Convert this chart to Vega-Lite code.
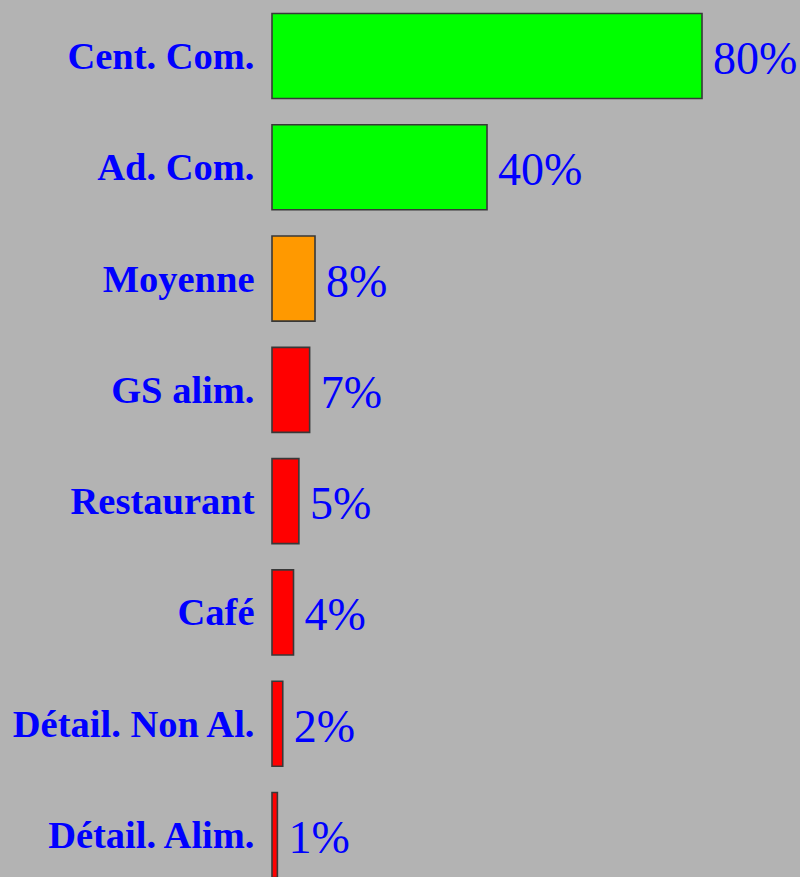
{
  "$schema": "https://vega.github.io/schema/vega-lite/v6.json",
  "autosize": {"type": "none"},
  "padding": {"left": 272, "top": 0, "right": 0, "bottom": 0},
  "width": 528,
  "height": 891,
  "background": "#b3b3b3",
  "config": {"view": {"stroke": null}},
  "data": {"values": [
    {"cat": "Cent. Com.", "value": 80, "label": "80%", "level": "haut"},
    {"cat": "Ad. Com.", "value": 40, "label": "40%", "level": "haut"},
    {"cat": "Moyenne", "value": 8, "label": "8%", "level": "moyen"},
    {"cat": "GS alim.", "value": 7, "label": "7%", "level": "bas"},
    {"cat": "Restaurant", "value": 5, "label": "5%", "level": "bas"},
    {"cat": "Café", "value": 4, "label": "4%", "level": "bas"},
    {"cat": "Détail. Non Al.", "value": 2, "label": "2%", "level": "bas"},
    {"cat": "Détail. Alim.", "value": 1, "label": "1%", "level": "bas"}
  ]},
  "encoding": {
    "y": {"field": "cat", "type": "nominal", "sort": null,
      "scale": {"paddingInner": 0.236, "paddingOuter": 0.121},
      "axis": {"title": null, "domain": false, "ticks": false, "grid": false,
        "labelFont": "Liberation Serif", "labelFontWeight": "bold", "labelFontSize": 38.5,
        "labelColor": "#0000ff", "labelPadding": 18, "labelLimit": 0, "labelOffset": 1}},
    "x": {"field": "value", "type": "quantitative",
      "scale": {"domain": [0, 98.23], "nice": false, "zero": true},
      "axis": null}
  },
  "layer": [
    {"mark": {"type": "bar", "stroke": "#383838", "strokeWidth": 1.6},
     "encoding": {"color": {"field": "level", "type": "nominal",
       "scale": {"domain": ["haut", "moyen", "bas"], "range": ["#00ff00", "#ff9900", "#ff0000"]},
       "legend": null}}},
    {"mark": {"type": "text", "align": "left", "baseline": "middle", "dx": 11, "dy": 4,
       "font": "Liberation Serif", "fontSize": 46, "color": "#0000ff"},
     "encoding": {"text": {"field": "label"}}}
  ]
}
